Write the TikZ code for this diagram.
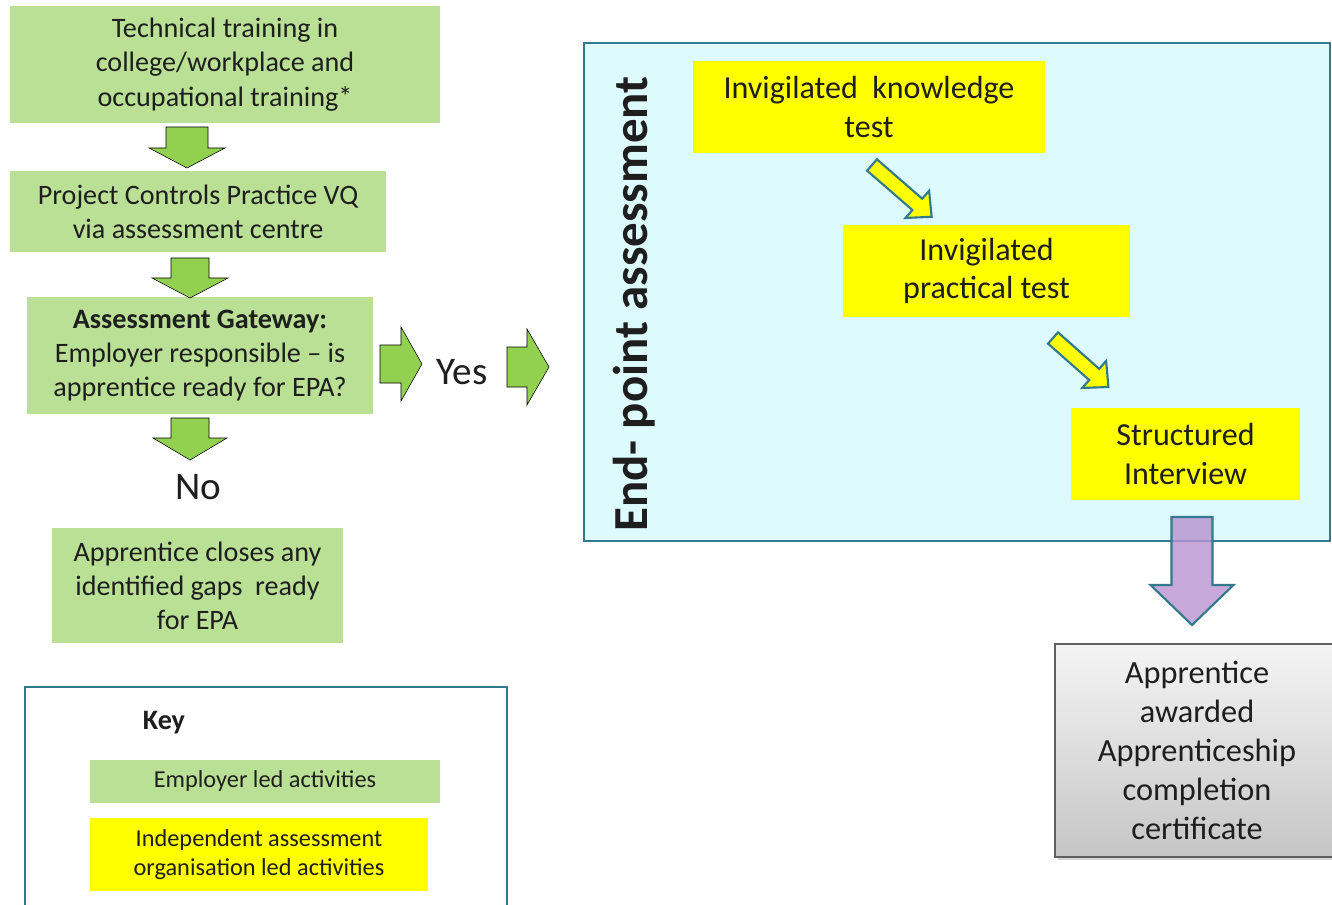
\documentclass[tikz,border=0pt]{standalone}
\usepackage{fontspec}
\setmainfont{Carlito}
\usetikzlibrary{positioning, shadows}
\definecolor{empgreen}{RGB}{186,224,150}
\definecolor{arrgreen}{RGB}{146,208,80}
\definecolor{epacyan}{RGB}{221,250,252}
\definecolor{tealline}{RGB}{49,121,140}
\definecolor{iaoyellow}{RGB}{255,255,0}
\definecolor{certpurple}{RGB}{184,146,208}
\definecolor{inktext}{RGB}{30,30,30}

\tikzset{
  wh/.style n args={2}{minimum width=#1*0.025cm, minimum height=#2*0.025cm},
  empbox/.style={fill=empgreen, inner sep=0pt, align=center, text=inktext,
    font=\fontsize{20}{24.3}\selectfont},
  iaobox/.style={fill=iaoyellow, inner sep=0pt, align=center, text=inktext,
    font=\fontsize{22.8}{27.2}\selectfont},
  keytext/.style={inner sep=0pt, align=center, text=inktext,
    font=\fontsize{17.3}{20.8}\selectfont},
  greenarr/.style={fill=arrgreen},
  yellowarr/.style={fill=iaoyellow, draw=tealline, line width=1.5pt},
  frame/.style={draw=tealline, line width=1.8pt}
}

% block arrow: [style]{tail}{angle}{length}{shaft length}{shaft half width}{head half width}
\newcommand\blockarr[7][]{%
  \draw[#1, shift={#2}, rotate=#3] (0,-#6) -- (#5,-#6) -- (#5,-#7) -- (#4,0)
    -- (#5,#7) -- (#5,#6) -- (0,#6) -- cycle;}

\begin{document}
\begin{tikzpicture}[x=0.025cm, y=-0.025cm]
  \useasboundingbox (0,0) rectangle (1332,905);

  % employer led column
  \node[empbox, wh={430}{117}] (tech) at (225,64.5)
    {Technical training in\\college/workplace and\\occupational training*};
  \node[empbox, wh={376}{81}] (pcp) at (198,211.5)
    {Project Controls Practice VQ\\via assessment centre};
  \node[empbox, wh={346}{117}] (gate) at (200,355.5)
    {\textbf{Assessment Gateway:}\\Employer responsible -- is\\apprentice ready for EPA?};
  \node[text=inktext, font=\fontsize{27.8}{32}\selectfont] (no) at (198,487) {No};
  \node[empbox, wh={291}{115}] (gaps) at (197.5,585.5)
    {Apprentice closes any\\identified gaps\ \ ready\\for EPA};
  \blockarr[greenarr]{(187,127)}{-90}{41}{21}{21}{38}
  \blockarr[greenarr]{(190,258)}{-90}{40}{20}{19}{38}
  \blockarr[greenarr]{(190,418)}{-90}{42}{20}{19}{37}

  % gateway to end-point assessment
  \blockarr[greenarr]{(380,364)}{0}{42}{21}{19}{37}
  \node[text=inktext, font=\fontsize{27.8}{32}\selectfont] (yes) at (462,372) {Yes};
  \blockarr[greenarr]{(507,367)}{0}{42}{20}{20}{38}

  % end-point assessment
  \draw[frame, fill=epacyan] (584,43) rectangle (1330,541);
  \node[rotate=90, text=inktext, font=\bfseries\fontsize{34.8}{40}\selectfont] (eptitle)
    at (634,304) {End- point assessment};
  \node[iaobox, wh={352}{92}] (know) at (869,107) {Invigilated\ \ knowledge\\test};
  \node[iaobox, wh={287}{92}] (prac) at (986.5,271) {Invigilated\\practical test};
  \node[iaobox, wh={229}{92}] (intv) at (1185.5,454) {Structured\\Interview};
  \blockarr[yellowarr]{(872,165)}{-41}{79}{60}{7.5}{18}
  \blockarr[yellowarr]{(1053,338)}{-41.5}{74}{55}{7.5}{18}

  % certificate
  \blockarr[draw=tealline, line width=1.5pt, fill=certpurple, fill opacity=0.8]
    {(1192,517)}{-90}{108}{68}{20.5}{41.5}
  \node[wh={284}{213}, draw=gray!75!black, line width=1pt, top color=gray!8,
    bottom color=gray!45, drop shadow={opacity=0.35, shadow xshift=2pt, shadow yshift=-2pt},
    align=center, text=inktext, font=\fontsize{23}{27.7}\selectfont] (cert)
    at (1197,750.5) {Apprentice\\awarded\\Apprenticeship\\completion\\certificate};

  % key
  \draw[frame] (25,687) rectangle (507,925);
  \node[text=inktext, font=\bfseries\fontsize{20}{24}\selectfont] (keylabel) at (164,723) {Key};
  \node[keytext, fill=empgreen, wh={350}{43}] (keyemp) at (265,781.5) {Employer led activities};
  \node[keytext, fill=iaoyellow, wh={338}{73}] (keyiao) at (259,854.5)
    {Independent assessment\\organisation led activities};
\end{tikzpicture}
\end{document}
